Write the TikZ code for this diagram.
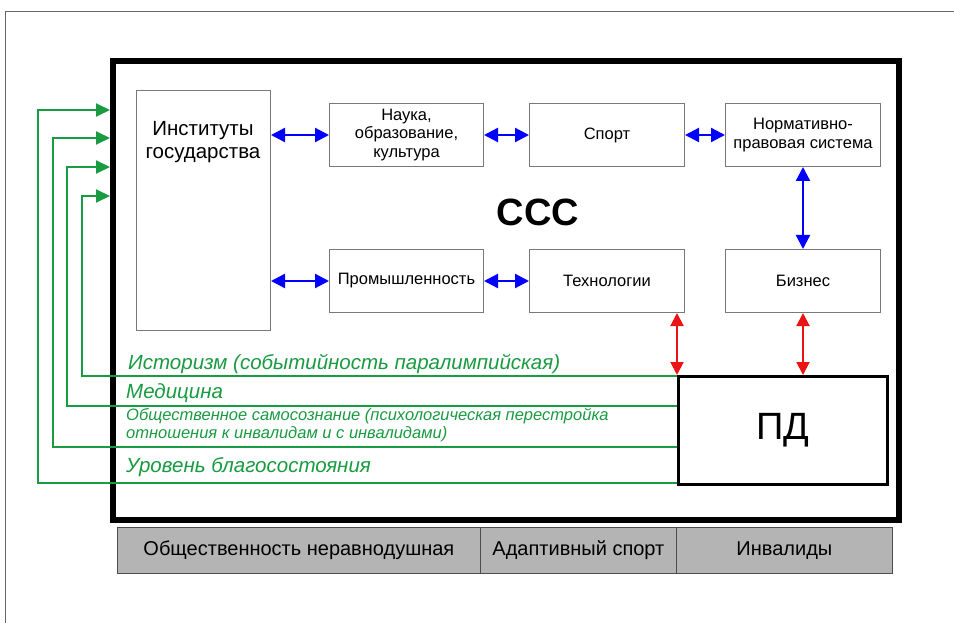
\documentclass[tikz,border=0pt]{standalone}
\usepackage{fontspec}
\setmainfont{Liberation Sans}
\usetikzlibrary{arrows.meta}
\definecolor{grn}{RGB}{25,155,65}
\definecolor{bxgray}{RGB}{120,120,120}
\definecolor{bottomfill}{RGB}{180,180,180}
\definecolor{redarr}{RGB}{235,20,20}
\begin{document}
\begin{tikzpicture}[x=1pt,y=-1pt,
  box/.style={draw=bxgray, line width=1pt, fill=white, inner sep=0pt, align=center,
    anchor=north west, font=\fontsize{16.5}{18.5}\selectfont},
  barr/.style={blue, line width=2.2pt, {Triangle[length=14pt,width=14pt]}-{Triangle[length=14pt,width=14pt]}},
  rarr/.style={redarr, line width=2pt, {Triangle[length=13pt,width=13pt]}-{Triangle[length=13pt,width=13pt]}},
  garr/.style={grn, line width=2pt, -{Triangle[length=14pt,width=13pt]}},
  glab/.style={grn, anchor=base west, inner sep=0pt, font=\itshape\fontsize{20.5}{22}\selectfont},
  bot/.style={draw=black!70, line width=0.8pt, fill=bottomfill, anchor=north west, inner sep=0pt,
    minimum height=46pt, font=\fontsize{20}{22}\selectfont}]
\useasboundingbox (0,0) rectangle (954,623);
\fill[white] (0,0) rectangle (954,623);
\draw[black!60, line width=1pt] (5,623) -- (5,12) -- (954,12);

% main frame
\node[draw=black, line width=6pt, minimum width=786pt, minimum height=459pt, anchor=north west, inner sep=0pt] (frame) at (110,58) {};

% boxes
\node[box, minimum width=134pt, minimum height=240pt] (inst) at (136,90) {};
\node[anchor=north, align=center, inner sep=0pt, font=\fontsize{20.5}{23}\selectfont] (insttext) at (203,121) {Институты\\государства};
\node[box, minimum width=154pt, minimum height=63pt] (nauka) at (329,103) {Наука,\\образование,\\культура};
\node[box, minimum width=155pt, minimum height=63pt] (sport) at (529,103) {Спорт};
\node[box, minimum width=155pt, minimum height=63pt] (norm) at (725,103) {Нормативно-\\правовая система};
\node[box, minimum width=154pt, minimum height=63pt] (prom) at (329,249) {Промышленность};
\node[box, minimum width=155pt, minimum height=63pt] (tech) at (529,249) {Технологии};
\node[box, minimum width=155pt, minimum height=63pt] (biz) at (725,249) {Бизнес};

\node[font=\bfseries\fontsize{38}{40}\selectfont, inner sep=0pt] (ccc) at (538,212) {ССС};

\node[draw=black, line width=3pt, minimum width=209pt, minimum height=108pt, anchor=north west, inner sep=0pt,
  font=\fontsize{38}{40}\selectfont] (pd) at (677,375) {ПД};

% blue arrows
\draw[barr] (inst.east |- nauka.west) -- (nauka.west);
\draw[barr] (inst.east |- prom.west) -- (prom.west);
\draw[barr] (nauka.east) -- (sport.west);
\draw[barr] (sport.east) -- (norm.west);
\draw[barr] (prom.east) -- (tech.west);
\draw[barr] (norm.south) -- (biz.north);

% red arrows
\draw[rarr] (pd.north west |- tech.south) -- (pd.north west);
\draw[rarr] (biz.south) -- (biz.south |- pd.north);

% green connectors
\coordinate (g1) at (82,196);
\coordinate (g2) at (67,167);
\coordinate (g3) at (53,138);
\coordinate (g4) at (38,110);
\coordinate (p1) at (677,376);
\coordinate (p2) at (677,406);
\coordinate (p3) at (677,447);
\coordinate (p4) at (677,483);
\draw[garr] (p1) -| (g1) -- (g1 -| frame.west);
\draw[garr] (p2) -| (g2) -- (g2 -| frame.west);
\draw[garr] (p3) -| (g3) -- (g3 -| frame.west);
\draw[garr] (p4) -| (g4) -- (g4 -| frame.west);

% green labels
\node[glab] (l1) at (128,369) {Историзм (событийность паралимпийская)};
\node[glab] (l2) at (126,398) {Медицина};
\node[glab, align=left, font=\itshape\fontsize{16.5}{18}\selectfont, anchor=north west] (l3) at (126,408) {Общественное самосознание (психологическая перестройка\\отношения к инвалидам и с инвалидами)};
\node[glab] (l4) at (126,472) {Уровень благосостояния};

% bottom row
\node[bot, minimum width=363pt] (b1) at (117,527) {Общественность неравнодушная};
\node[bot, minimum width=196pt] (b2) at (480,527) {Адаптивный спорт};
\node[bot, minimum width=216pt] (b3) at (676,527) {Инвалиды};
\end{tikzpicture}
\end{document}
